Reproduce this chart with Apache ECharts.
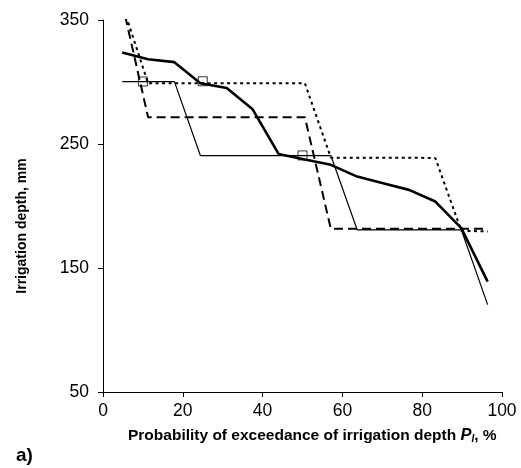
<!DOCTYPE html>
<html>
<head>
<meta charset="utf-8">
<script src="https://cdn.jsdelivr.net/npm/echarts@6/dist/echarts.min.js"></script>
<style>
  html, body { margin: 0; padding: 0; background: #fff; }
  #chart { width: 521px; height: 468px; }
</style>
</head>
<body>
<div id="chart"></div>
<script>
// probability of exceedance, %
var prob = [4.8, 11.3, 17.9, 24.4, 31.0, 37.5, 44.0, 50.6, 57.1, 63.7, 70.2, 76.7, 83.3, 89.8, 96.4]
// irrigation depth, mm
var thickSolid = [323.7, 318.3, 316, 299, 295.2, 278, 242, 237.5, 233.2, 223.7, 218.4, 213, 203.6, 182.2, 139]
var thinSolid = [300.3, 300.3, 300.3, 240.7, 240.7, 240.7, 240.7, 240.7, 240.7, 180.8, 180.8, 180.8, 180.8, 180.8, 120.5]
var dashed = [364, 271.6, 271.6, 271.6, 271.6, 271.6, 271.6, 271.6, 181.6, 181.6, 181.6, 181.6, 181.6, 181.6, 181.6]
var dotted = [363, 299, 299, 299, 299, 299, 299, 299, 239, 239, 239, 239, 238.6, 180, 179.5]
// square markers
var squareX = [10, 25, 50]
var squareY = [300.4, 300.6, 240.8]

function pairs (xs, ys) {
  return xs.map(function (x, i) { return [x, ys[i]] })
}

var chart = echarts.init(document.getElementById('chart'))
var font = '"Liberation Sans", Arial, sans-serif'

var option = {
  animation: false,
  backgroundColor: '#fff',
  textStyle: { fontFamily: font },
  grid: { left: 103, right: 19, top: 20, bottom: 76 },
  xAxis: {
    type: 'value',
    min: 0,
    max: 100,
    interval: 20,
    axisLine: { onZero: false, lineStyle: { color: '#000', width: 1 } },
    axisTick: { show: true, length: 5, lineStyle: { color: '#000' } },
    axisLabel: { color: '#000', fontSize: 17.5, margin: 10, fontFamily: font },
    splitLine: { show: false }
  },
  yAxis: {
    type: 'value',
    min: 50,
    max: 350,
    interval: 100,
    axisLine: { show: true, lineStyle: { color: '#000', width: 1 } },
    axisTick: { show: true, length: 5, lineStyle: { color: '#000' } },
    axisLabel: { color: '#000', fontSize: 17.5, margin: 14, fontFamily: font },
    splitLine: { show: false }
  },
  graphic: [
    {
      type: 'text',
      left: 128,
      top: 427,
      style: {
        text: '{b|Probability of exceedance of irrigation depth }{p|P}{s|I}{b|, %}',
        rich: {
          b: { fontSize: 15.5, fontWeight: 'bold', fontFamily: font, fill: '#000' },
          p: { fontSize: 16.5, fontWeight: 'bold', fontStyle: 'italic', fontFamily: font, fill: '#000' },
          s: { fontSize: 10, fontWeight: 'bold', fontStyle: 'italic', fontFamily: font, fill: '#000', padding: [7, 0, 0, 0] }
        }
      }
    },
    {
      type: 'text',
      x: 22,
      y: 226,
      rotation: Math.PI / 2,
      style: {
        text: 'Irrigation depth, mm',
        fontSize: 14,
        fontWeight: 'bold',
        fontFamily: font,
        fill: '#000',
        align: 'center',
        verticalAlign: 'middle'
      }
    },
    {
      type: 'text',
      left: 16,
      top: 446,
      style: { text: 'a)', fontSize: 19, fontWeight: 'bold', fontFamily: font, fill: '#000' }
    }
  ],
  series: [
    {
      type: 'line',
      data: pairs(prob, thinSolid),
      symbol: 'none',
      lineStyle: { color: '#000', width: 1.2 }
    },
    {
      type: 'line',
      data: pairs(prob, dashed),
      symbol: 'none',
      lineStyle: { color: '#000', width: 2, type: [9, 5] }
    },
    {
      type: 'line',
      data: pairs(prob, dotted),
      symbol: 'none',
      lineStyle: { color: '#000', width: 2, type: [3, 3.5] }
    },
    {
      type: 'line',
      data: pairs(prob, thickSolid),
      symbol: 'none',
      lineStyle: { color: '#000', width: 2.6 }
    },
    {
      type: 'scatter',
      data: pairs(squareX, squareY),
      symbol: 'rect',
      symbolSize: 9,
      itemStyle: { color: 'rgba(0,0,0,0)', borderColor: '#000', borderWidth: 1 }
    }
  ]
}
chart.setOption(option)
</script>
</body>
</html>
